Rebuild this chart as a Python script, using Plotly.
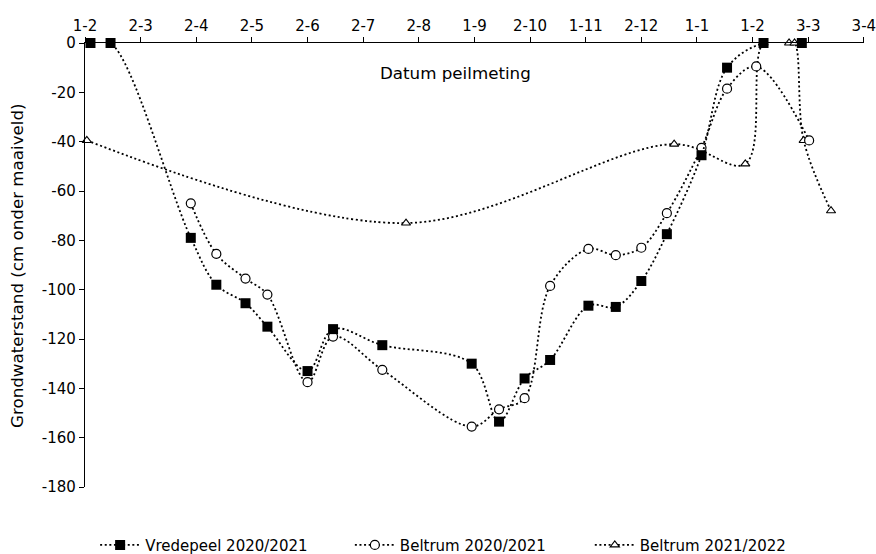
import pandas as pd
import plotly.graph_objects as go

# Measurement dates and groundwater levels (cm below surface)
vredepeel_dates = [
    "2020-02-04", "2020-02-15", "2020-03-30", "2020-04-13", "2020-04-29",
    "2020-05-11", "2020-06-02", "2020-06-16", "2020-07-13", "2020-08-31",
    "2020-09-15", "2020-09-29", "2020-10-13", "2020-11-03", "2020-11-18",
    "2020-12-02", "2020-12-16", "2021-01-04", "2021-01-18", "2021-02-07",
    "2021-02-28",
]
vredepeel_levels = [
    0, 0, -79, -98, -105.5, -115, -133, -116, -122.5, -130, -153.5, -136,
    -128.5, -106.5, -107, -96.5, -77.5, -45.5, -10, 0, 0,
]

beltrum_2021_dates = [
    "2020-03-30", "2020-04-13", "2020-04-29", "2020-05-11", "2020-06-02",
    "2020-06-16", "2020-07-13", "2020-08-31", "2020-09-15", "2020-09-29",
    "2020-10-13", "2020-11-03", "2020-11-18", "2020-12-02", "2020-12-16",
    "2021-01-04", "2021-01-18", "2021-02-03", "2021-03-04",
]
beltrum_2021_levels = [
    -65, -85.5, -95.5, -102, -137.5, -119, -132.5, -155.5, -148.5, -144,
    -98.5, -83.5, -86, -83, -69, -42.5, -18.5, -9.5, -39.5,
]

beltrum_2122_dates = [
    "2020-02-02", "2020-07-26", "2020-12-20", "2021-01-28", "2021-02-07",
    "2021-02-21", "2021-02-24", "2021-03-01", "2021-03-16",
]
beltrum_2122_levels = [-39.5, -73, -41, -49, 0, 0, 0, -39.5, -68]

# Date axis: labels every 30.5 days starting 1 Feb
x_tick_labels = ["1-2", "2-3", "2-4", "2-5", "2-6", "2-7", "2-8", "1-9",
                 "2-10", "1-11", "2-12", "1-1", "1-2", "3-3", "3-4"]
axis_start = pd.Timestamp("2020-02-01")
tick_step_days = 30.5
x_tick_vals = [axis_start + pd.Timedelta(days=tick_step_days * i)
               for i in range(len(x_tick_labels))]
axis_end = x_tick_vals[-1] + pd.Timedelta(hours=2)

# Level axis, labelled with a plain hyphen as minus sign
y_tick_vals = [0, -20, -40, -60, -80, -100, -120, -140, -160, -180]
y_tick_labels = ["0", "-20", "-40", "-60", "-80", "-100", "-120", "-140", "-160", "-180"]

FONT = "DejaVu Sans"
line_style = dict(color="black", width=1.8, dash="2px,2.6px", shape="spline", smoothing=1)

fig = go.Figure()

fig.add_trace(go.Scatter(
    x=pd.to_datetime(beltrum_2122_dates), y=beltrum_2122_levels,
    name="Beltrum 2021/2022", mode="lines+markers", line=line_style,
    marker=dict(symbol="triangle-up", size=8, color="white",
                line=dict(color="black", width=1.1)),
    cliponaxis=False, legend="legend3", showlegend=True,
))
fig.add_trace(go.Scatter(
    x=pd.to_datetime(beltrum_2021_dates), y=beltrum_2021_levels,
    name="Beltrum 2020/2021", mode="lines+markers", line=line_style,
    marker=dict(symbol="circle", size=9, color="white",
                line=dict(color="black", width=1.2)),
    cliponaxis=False, legend="legend2", showlegend=True,
))
fig.add_trace(go.Scatter(
    x=pd.to_datetime(vredepeel_dates), y=vredepeel_levels,
    name="Vredepeel 2020/2021", mode="lines+markers", line=line_style,
    marker=dict(symbol="square", size=10, color="black",
                line=dict(color="black", width=0)),
    cliponaxis=False, legend="legend", showlegend=True,
))

legend_common = dict(orientation="h", yanchor="middle", y=-0.131, xanchor="left",
                     font=dict(family=FONT, size=15, color="black"),
                     itemwidth=40, bgcolor="rgba(0,0,0,0)", visible=True)

fig.update_layout(
    width=876, height=554,
    margin=dict(l=85, r=12, t=43, b=67, autoexpand=False),
    paper_bgcolor="white", plot_bgcolor="white",
    font=dict(family=FONT, size=15, color="black"),
    showlegend=True,
    legend=dict(x=0.013, **legend_common),
    legend2=dict(x=0.340, **legend_common),
    legend3=dict(x=0.648, **legend_common),
    xaxis=dict(
        type="date", side="top", range=[axis_start, axis_end],
        tickmode="array", tickvals=x_tick_vals, ticktext=x_tick_labels,
        ticklabeloverflow="allow",
        showline=True, linecolor="black", linewidth=1.3,
        ticks="outside", ticklen=5, tickcolor="black", tickwidth=1.3,
        showgrid=False, zeroline=False,
        tickfont=dict(family=FONT, size=15, color="black"),
    ),
    yaxis=dict(
        range=[-180, 0], tickmode="array", tickvals=y_tick_vals, ticktext=y_tick_labels,
        showline=True, linecolor="black", linewidth=1.3,
        ticks="outside", ticklen=5, tickcolor="black", tickwidth=1.3,
        showgrid=False, zeroline=False,
        tickfont=dict(family=FONT, size=15, color="black"),
    ),
    annotations=[
        dict(text="Datum peilmeting", xref="paper", yref="paper",
             x=0.476, y=0.932, xanchor="center", yanchor="middle",
             showarrow=False, font=dict(family=FONT, size=16.7, color="black")),
        dict(text="Grondwaterstand (cm onder maaiveld)", xref="paper", yref="paper",
             x=-0.0873, y=0.5, xanchor="center", yanchor="middle", textangle=-90,
             showarrow=False, font=dict(family=FONT, size=16.7, color="black")),
    ],
)

fig.write_html("out.html")
